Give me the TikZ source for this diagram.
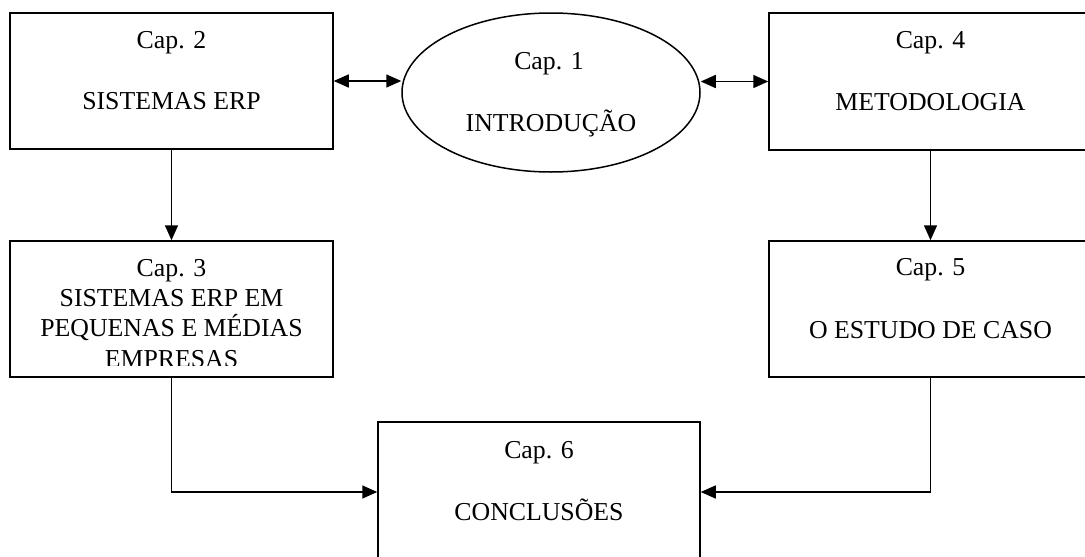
\documentclass[tikz,border=0pt]{standalone}
\usepackage{fontspec}
\setmainfont{Liberation Serif}
\usetikzlibrary{arrows.meta,shapes.geometric}
\begin{document}
\begin{tikzpicture}[x=1pt,y=-1pt,
  box/.style={draw, line width=1.5pt, rectangle, inner sep=0pt, minimum width=323pt, minimum height=136pt},
  oval/.style={draw, line width=1.5pt, ellipse, inner sep=0pt, minimum width=298pt, minimum height=159pt},
  lbl/.style={font=\fontsize{25.8}{30}\selectfont, anchor=base, inner sep=0pt},
  conn/.style={line width=1.5pt},
  tip/.tip={Triangle[length=15pt,width=13pt]},
  arr/.style={conn, -tip},
  darr/.style={conn, tip-tip}]
\useasboundingbox (0,0) rectangle (1085,557);
% shapes
\node[box] (b2) at (171.5,81) {};
\node[oval] (e1) at (551,92.5) {};
\node[box, minimum height=137pt] (b4) at (930.5,81.5) {};
\node[box] (b3) at (171.5,309) {};
\node[box] (b5) at (930.5,309) {};
\node[box, minimum width=322pt, minimum height=140pt] (b6) at (539,492) {};
% labels
\node[lbl] (t2a) at (171.5,48) {Cap. 2};
\node[lbl] (t2b) at (171.5,109) {SISTEMAS ERP};
\node[lbl] (t1a) at (549,69) {Cap. 1};
\node[lbl] (t1b) at (551,131) {INTRODUÇÃO};
\node[lbl] (t4a) at (930.5,48) {Cap. 4};
\node[lbl] (t4b) at (930.5,110) {METODOLOGIA};
\begin{scope}
\clip (10,241) rectangle (333,365);
\node[lbl] (t3a) at (171.5,276) {Cap. 3};
\node[lbl] (t3b) at (171.5,306) {SISTEMAS ERP EM};
\node[lbl] (t3c) at (171.5,336) {PEQUENAS E MÉDIAS};
\node[lbl] (t3d) at (171.5,367) {EMPRESAS};
\end{scope}
\node[lbl] (t5a) at (930.5,275) {Cap. 5};
\node[lbl] (t5b) at (930.5,338) {O ESTUDO DE CASO};
\node[lbl] (t6a) at (539,458) {Cap. 6};
\node[lbl] (t6b) at (539,520) {CONCLUSÕES};
% connectors
\draw[darr] (b2.east) -- (b2.east -| e1.west);
\draw[darr] (b4.west -| e1.east) -- (b4.west);
\draw[arr] (b2.south) -- (b3.north);
\draw[arr] (b4.south) -- (b5.north);
\draw[arr] (b3.south) |- (b6.west);
\draw[arr] (b5.south) |- (b6.east);
\end{tikzpicture}
\end{document}
